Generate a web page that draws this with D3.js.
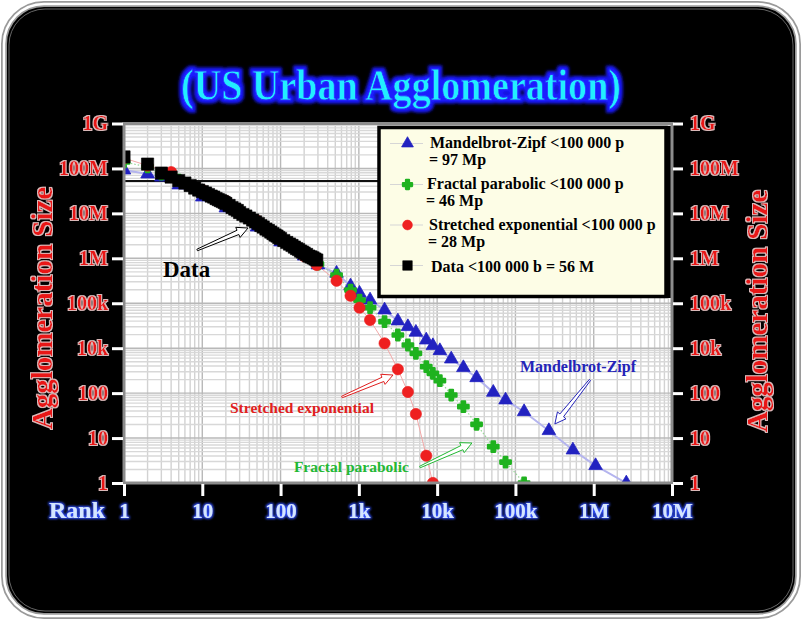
<!DOCTYPE html>
<html><head><meta charset="utf-8">
<script src="https://cdn.jsdelivr.net/npm/d3@7"></script>
<style>html,body{margin:0;padding:0;background:#fff;}svg{display:block}</style>
</head><body>
<svg id="c" width="802" height="623"></svg>
<script>
// ---------- data ----------
const yTickValues = [1, 10, 100, 1e3, 1e4, 1e5, 1e6, 1e7, 1e8];
const yTickLabels = ["1", "10", "100", "10k", "100k", "1M", "10M", "100M", "1G"];
const xTickValues = [1, 10, 100, 1e3, 1e4, 1e5, 1e6, 1e7];
const xTickLabels = ["1", "10", "100", "1k", "10k", "100k", "1M", "10M"];

const dataRanks = [1,2,3,4,5,6,7,8,9,10,11,12,13,14,15,16,17,18,19,20,22,24,26,28,30,33,36,40,44,48,52,56,60,65,70,75,80,85,90,95,100,110,120,130,140,150,160,170,180,190,200,215,230,245,260,275,290];
const dataValues = [1.8e7,1.25e7,7.9e6,6.44e6,5.38e6,4.74e6,4.17e6,3.66e6,3.31e6,3.06e6,2.84e6,2.63e6,2.43e6,2.31e6,2.14e6,2.03e6,1.93e6,1.84e6,1.75e6,1.66e6,1.50e6,1.35e6,1.25e6,1.16e6,1.045e6,9.44e5,8.74e5,7.89e5,7.12e5,6.43e5,5.95e5,5.37e5,4.97e5,4.49e5,4.16e5,3.85e5,3.56e5,3.30e5,3.13e5,2.90e5,2.76e5,2.49e5,2.25e5,2.08e5,1.93e5,1.78e5,1.65e5,1.57e5,1.45e5,1.38e5,1.31e5,1.22e5,1.12e5,1.07e5,1.02e5,9.64e4,9.16e4];

const mzRanks = [1,2,3,5,10,20,50,100,200,300,519,783,1020,1390,2130,3150,4230,5350,7260,8820,10840,15140,21630,31900,52100,74800,129000,267500,542000,1057000,2608000];
const mzValues = [9.2e6,7.5e6,6.4e6,4.28e6,2.31e6,1.32e6,4.97e5,2.31e5,1.12e5,7.1e4,46400,24200,16640,11800,7080,4030,3010,2260,1520,1136,879,574,368,220,104,70.3,38.6,14.6,5.42,2.43,1.0];

const fpRanks = [1,2,3,5,10,20,50,100,200,300,519,783,1020,1390,2130,3150,4230,5350,7260,8820,10840,15140,21630,31900,52100,74800,129000];
const fpValues = [1.39e7,1.08e7,7.5e6,5.5e6,2.99e6,1.70e6,6.4e5,2.8e5,1.2e5,7.4e4,42500,19700,11800,7960,3880,1965,1177,769,387,276,189,90.8,49.9,20.2,6.42,2.93,1.0];

const seRanks = [1,2,4,10,20,50,100,200,290,519,783,1020,1390,2130,3150,4230,5350,7260,8820];
const seValues = [1.7e7,1.16e7,8.3e6,3.3e6,1.88e6,6.9e5,2.98e5,1.12e5,7.1e4,31700,14700,7960,4240,1284,339,106,34.3,4.05,1.0];

const refLineValue = 5.25e6;

const legendLabels = [
  ["Mandelbrot-Zipf <100 000 p", "= 97 Mp"],
  ["Fractal parabolic  <100 000 p", "= 46 Mp"],
  ["Stretched exponential <100 000 p", "= 28 Mp"],
  ["Data <100 000 b = 56 M"]
];

// annotations in data coordinates (rank, value)
const annotations = [
  {text: "Data", color: "#000", size: 23, tx: 3.15, tv: 3.84e4, a: [8.6, 1.53e5], b: [38.4, 4.72e5]},
  {text: "Stretched exponential", color: "#e02020", size: 15.5, tx: 22.6, tv: 36.1, a: [608, 82], b: [2729, 253]},
  {text: "Fractal parabolic", color: "#22b833", size: 15.5, tx: 148, tv: 1.76, a: [6030, 2.27], b: [27800, 7.76]},
  {text: "Mandelbrot-Zipf", color: "#2424b8", size: 16, tx: 114000, tv: 295, a: [894000, 196], b: [319000, 20.6]}
];

// ---------- layout ----------
const W = 802, H = 623;
const plot = {left: 124, right: 672, top: 123.5, bottom: 483};
const svg = d3.select("#c");
const serif = "'Liberation Serif','Times New Roman',serif";

const x = d3.scaleLog().domain([1, 1e7]).range([plot.left, plot.right]);
const y = d3.scaleLog().domain([1, 1e8]).range([plot.bottom, plot.top]);

// filters
const defs = svg.append("defs");
function glow(id, color, r, blur, op) {
  const f = defs.append("filter").attr("id", id).attr("x", "-20%").attr("y", "-40%").attr("width", "140%").attr("height", "180%");
  f.append("feMorphology").attr("in", "SourceAlpha").attr("operator", "dilate").attr("radius", r).attr("result", "d");
  f.append("feGaussianBlur").attr("in", "d").attr("stdDeviation", blur).attr("result", "b");
  f.append("feFlood").attr("flood-color", color).attr("flood-opacity", op).attr("result", "c");
  f.append("feComposite").attr("in", "c").attr("in2", "b").attr("operator", "in").attr("result", "g");
  const m = f.append("feMerge");
  m.append("feMergeNode").attr("in", "g");
  m.append("feMergeNode").attr("in", "SourceGraphic");
}
glow("gTitle", "#1a1aff", 2.5, 1.5, 1);
glow("gRed", "#ffd8d8", 0.8, 0.6, 0.85);
glow("gBlue", "#2f4fff", 1, 0.8, 1);
defs.append("clipPath").attr("id", "clip").append("rect")
  .attr("x", plot.left).attr("y", plot.top).attr("width", plot.right - plot.left).attr("height", plot.bottom - plot.top);

// background frame
svg.append("rect").attr("x", 0).attr("y", 0).attr("width", W).attr("height", H).attr("fill", "#fff");
svg.append("rect").attr("x", 4).attr("y", 4).attr("width", 794).attr("height", 612).attr("rx", 40)
  .attr("fill", "#000").attr("stroke", "#9a9a9a").attr("stroke-width", 6);
svg.append("rect").attr("x", 4).attr("y", 4).attr("width", 794).attr("height", 612).attr("rx", 40)
  .attr("fill", "none").attr("stroke", "#fff").attr("stroke-width", 2.5);
svg.append("rect").attr("x", 9).attr("y", 9).attr("width", 784).attr("height", 602).attr("rx", 36)
  .attr("fill", "none").attr("stroke", "#666").attr("stroke-width", 1);

// title
svg.append("text").attr("x", 401).attr("y", 100).attr("text-anchor", "middle")
  .attr("font-family", serif).attr("font-weight", "bold").attr("font-size", 45)
  .attr("textLength", 440).attr("lengthAdjust", "spacingAndGlyphs")
  .attr("fill", "#22eeff").attr("stroke", "#2a2aff").attr("stroke-width", 0.8)
  .attr("filter", "url(#gTitle)")
  .text("(US Urban Agglomeration)");

// plot background
svg.append("rect").attr("x", plot.left).attr("y", plot.top).attr("width", plot.right - plot.left)
  .attr("height", plot.bottom - plot.top).attr("fill", "#fff");

// grid
const gGrid = svg.append("g").attr("clip-path", "url(#clip)");
const xMinor = [];
for (let k = 0; k < 7; k++) for (let i = 1; i <= 9; i++) xMinor.push(i * Math.pow(10, k));
const yMinor = [];
for (let k = 0; k < 8; k++) for (let i = 1; i <= 9; i++) yMinor.push(i * Math.pow(10, k));
gGrid.selectAll(".vx").data(xMinor).join("line")
  .attr("x1", d => x(d)).attr("x2", d => x(d)).attr("y1", plot.top).attr("y2", plot.bottom)
  .attr("stroke", d => (Math.log10(d) % 1 === 0) ? "#b8b8b8" : "#d2d2d2").attr("stroke-width", 1.4);
gGrid.selectAll(".hy").data(yMinor).join("line")
  .attr("y1", d => y(d)).attr("y2", d => y(d)).attr("x1", plot.left).attr("x2", plot.right)
  .attr("stroke", d => (Math.log10(d) % 1 === 0) ? "#b8b8b8" : "#d8d8d8").attr("stroke-width", 1.4);

// reference horizontal line
gGrid.append("line").attr("x1", x(1)).attr("x2", x(1e7)).attr("y1", y(refLineValue)).attr("y2", y(refLineValue))
  .attr("stroke", "#111").attr("stroke-width", 2);

// series
const series = [
  {r: mzRanks, v: mzValues, color: "#2222c0", line: "#b4b4ee", lw: 2, dash: null, sym: d3.symbolTriangle, size: 80, sw: 0.8},
  {r: fpRanks, v: fpValues, color: "#1fb21f", line: "#9ad89a", lw: 1.2, dash: "1.5,2", sym: d3.symbolCross, size: 62, sw: 2.2},
  {r: seRanks, v: seValues, color: "#ee2020", line: "#f2a8a8", lw: 1, dash: null, sym: d3.symbolCircle, size: 100, sw: 0.6},
  {r: dataRanks, v: dataValues, color: "#000", line: "#999", lw: 1, dash: null, sym: d3.symbolSquare, size: 150, sw: 0.6}
];
const gS = svg.append("g").attr("clip-path", "url(#clip)");
const lineGen = d3.line().x(d => x(d[0])).y(d => y(d[1]));
series.slice(0, 3).forEach(s => {
  const pts = s.r.map((r, i) => [r, s.v[i]]);
  gS.append("path").attr("d", lineGen(pts)).attr("fill", "none").attr("stroke", s.line)
    .attr("stroke-width", s.lw).attr("stroke-dasharray", s.dash);
});
series.forEach(s => {
  const pts = s.r.map((r, i) => [r, s.v[i]]);
  gS.append("g").selectAll("path").data(pts).join("path")
    .attr("transform", d => `translate(${x(d[0])},${y(d[1])})`)
    .attr("d", d3.symbol().type(s.sym).size(s.size))
    .attr("fill", s.color).attr("stroke", s.color).attr("stroke-width", s.sw).attr("stroke-linejoin", "round");
});

// annotations
function arrowPath(x1, y1, x2, y2) {
  const dx = x2 - x1, dy = y2 - y1, L = Math.hypot(dx, dy);
  const ux = dx / L, uy = dy / L, nx = -uy, ny = ux;
  const sw = 2.3, hw = 5.5, hl = 11;
  const bx = x2 - ux * hl, by = y2 - uy * hl;
  const p = [
    [x1 + nx * 0.8, y1 + ny * 0.8], [bx + nx * sw, by + ny * sw], [bx + nx * hw, by + ny * hw], [x2, y2],
    [bx - nx * hw, by - ny * hw], [bx - nx * sw, by - ny * sw], [x1 - nx * 0.8, y1 - ny * 0.8]
  ];
  return "M" + p.map(q => q.join(",")).join("L") + "Z";
}
const gA = svg.append("g");
annotations.forEach(a => {
  gA.append("text").attr("x", x(a.tx)).attr("y", y(a.tv)).attr("font-family", serif).attr("font-weight", "bold")
    .attr("font-size", a.size).attr("fill", a.color).text(a.text);
  gA.append("path").attr("d", arrowPath(x(a.a[0]), y(a.a[1]), x(a.b[0]), y(a.b[1])))
    .attr("fill", "#fff").attr("stroke", a.color).attr("stroke-width", 1);
});

// legend
const lg = svg.append("g");
lg.append("rect").attr("x", 379).attr("y", 127.5).attr("width", 287).attr("height", 169)
  .attr("fill", "#fdfde6").attr("stroke", "#000").attr("stroke-width", 3.5);
const legRowY = [143.5, 184.5, 225, 265.5];
const legTextX = [430, 427, 429, 431];
series.forEach((s, i) => {
  lg.append("line").attr("x1", 390).attr("x2", 423).attr("y1", legRowY[i]).attr("y2", legRowY[i])
    .attr("stroke", "#d6d6d6").attr("stroke-width", 1.2);
  lg.append("path").attr("transform", `translate(407.5,${legRowY[i]})`)
    .attr("d", d3.symbol().type(s.sym).size(i === 3 ? 90 : s.size * 0.75)).attr("fill", s.color)
    .attr("stroke", s.color).attr("stroke-width", s.sw).attr("stroke-linejoin", "round");
  const lines = legendLabels[i];
  lines.forEach((t, j) => {
    lg.append("text").attr("x", j === 0 ? legTextX[i] : legTextX[i] - 1)
      .attr("y", legRowY[i] + (lines.length === 1 ? 6 : 4.5) + j * 17)
      .attr("font-family", serif).attr("font-weight", "bold").attr("font-size", 16)
      .attr("fill", "#000").text(t);
  });
});
// legend border drawn again on top so overflowing text is clipped at the frame
lg.append("rect").attr("x", 665.5).attr("y", 126).attr("width", 6).attr("height", 172).attr("fill", "#000");

// plot frame
svg.append("rect").attr("x", plot.left).attr("y", plot.top).attr("width", plot.right - plot.left)
  .attr("height", plot.bottom - plot.top).attr("fill", "none").attr("stroke", "#8c8c8c").attr("stroke-width", 3);

// axes
function styleAxis(g, fill, filt) {
  g.select(".domain").remove();
  g.selectAll(".tick line").attr("stroke", "#fff").attr("stroke-width", 3);
  g.selectAll(".tick text").attr("font-family", serif).attr("font-weight", "bold").attr("font-size", 20)
    .attr("fill", fill).attr("filter", filt);
}
const yl = svg.append("g").attr("transform", `translate(${plot.left - 1},0)`)
  .call(d3.axisLeft(y).tickValues(yTickValues).tickFormat((d, i) => yTickLabels[i]).tickSize(11).tickPadding(4));
styleAxis(yl, "#e81818", "url(#gRed)");
const yr = svg.append("g").attr("transform", `translate(${plot.right + 1},0)`)
  .call(d3.axisRight(y).tickValues(yTickValues).tickFormat((d, i) => yTickLabels[i]).tickSize(10).tickPadding(7));
styleAxis(yr, "#e81818", "url(#gRed)");
const xb = svg.append("g").attr("transform", `translate(0,${plot.bottom + 1})`)
  .call(d3.axisBottom(x).tickValues(xTickValues).tickFormat((d, i) => xTickLabels[i]).tickSize(12).tickPadding(7));
styleAxis(xb, "#d4e6ff", "url(#gBlue)");
xb.selectAll(".tick text").attr("font-size", 21);

// axis titles
svg.append("text").attr("x", 105).attr("y", 518).attr("text-anchor", "end")
  .attr("font-family", serif).attr("font-weight", "bold").attr("font-size", 24)
  .attr("fill", "#d4e6ff").attr("filter", "url(#gBlue)").text("Rank");
[[52, 308], [767, 311]].forEach(p => {
  svg.append("text").attr("transform", `translate(${p[0]},${p[1]}) rotate(-90)`).attr("text-anchor", "middle")
    .attr("font-family", serif).attr("font-weight", "bold").attr("font-size", 29)
    .attr("fill", "#e81818").attr("filter", "url(#gRed)").text("Agglomeration Size");
});
</script>
</body></html>
